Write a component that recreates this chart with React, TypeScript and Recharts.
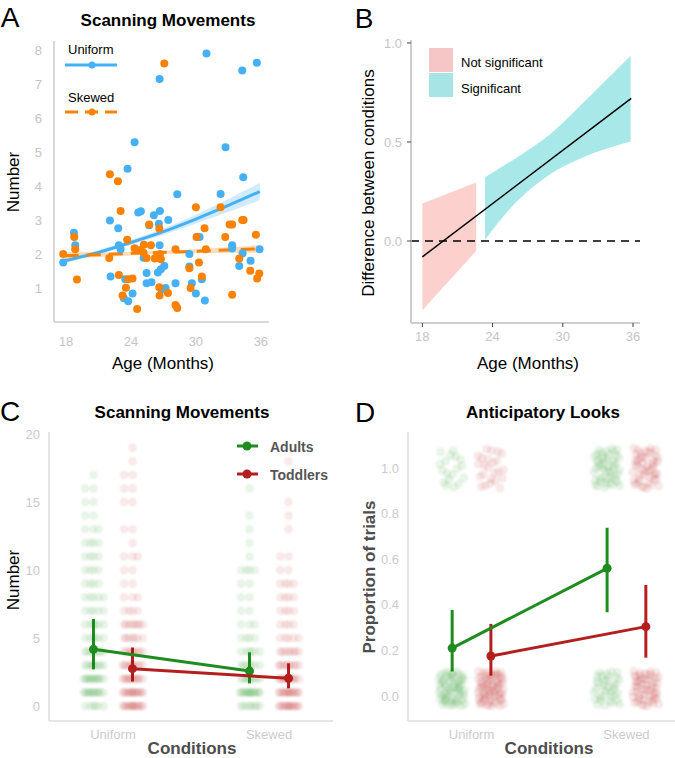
import React from "react";
import { Area, ComposedChart, ErrorBar, Line, ReferenceLine, Scatter, XAxis, YAxis } from "recharts";

const FONT = '"Liberation Sans", Arial, Helvetica, sans-serif';
const BLUE = "#45b0f5";
const ORANGE = "#fb8100";
const GREEN = "#1f8c1f";
const RED = "#b31f1f";
const PINK = "#fcd0cc";
const CYAN = "#a8e8e8";

// ---- Panel A: scanning movements by age ----
const uniformAge = [17.75, 18.74, 18.86, 22.06, 22.12, 22.83, 22.89, 23.05, 23.35, 23.75, 23.69, 23.48, 24.15, 24.34, 24.68, 24.92, 25.17, 25.45, 25.45, 25.9, 25.69, 26.12, 26.58, 26.68, 26.65, 26.65, 26.49, 26.77, 27.08, 26.83, 27.2, 27.45, 28.28, 28.12, 29.4, 29.4, 29.63, 30.34, 30.0, 30.55, 30.83, 30.98, 32.28, 32.74, 33.35, 33.35, 34.0, 34.31, 34.37, 34.28, 35.05, 35.63, 35.88];
const uniformNum = [1.75, 2.63, 2.26, 2.99, 1.34, 2.76, 2.26, 2.14, 0.7, 0.61, 4.51, 1.26, 0.84, 5.29, 3.22, 3.26, 1.89, 1.44, 1.14, 1.17, 2.85, 3.14, 2.89, 3.27, 2.26, 7.15, 1.46, 1.55, 1.65, 0.95, 1.0, 3.0, 3.76, 1.14, 2.0, 1.63, 1.14, 2.5, 0.84, 1.26, 0.63, 7.9, 3.77, 5.14, 2.26, 2.16, 1.65, 2.02, 4.26, 7.4, 1.8, 7.63, 2.14];
const skewedAge = [17.75, 18.77, 18.86, 19.02, 22.0, 22.06, 22.8, 23.05, 22.89, 23.23, 23.54, 23.66, 23.75, 24.15, 24.34, 24.58, 24.89, 25.2, 25.45, 25.85, 25.69, 26.2, 26.37, 26.68, 26.77, 26.62, 26.62, 26.65, 27.08, 27.42, 28.12, 28.12, 28.28, 29.4, 29.51, 30.0, 30.06, 30.28, 30.55, 30.8, 30.92, 32.28, 32.71, 33.11, 33.35, 33.35, 34.0, 34.28, 34.4, 35.02, 35.54, 35.66, 35.85, 25.17];
const skewedNum = [2.0, 2.5, 2.14, 1.25, 1.88, 4.35, 4.14, 3.27, 1.38, 0.78, 1.01, 2.42, 1.26, 1.28, 2.17, 0.38, 2.12, 2.27, 1.88, 2.26, 2.87, 1.87, 1.9, 2.0, 1.85, 2.75, 1.02, 0.78, 7.61, 0.85, 2.14, 0.5, 0.41, 1.58, 1.0, 3.38, 2.5, 1.75, 1.34, 2.76, 2.14, 3.38, 2.5, 2.87, 2.87, 0.8, 1.87, 3.0, 3.0, 1.51, 2.57, 1.28, 1.43, 2.04];

const fitAge = [17.9, 21, 24, 27, 30, 33, 35.9];
const uniformFit = [1.8, 2.05, 2.34, 2.66, 3.03, 3.43, 3.84];
const uniformFitLo = [1.74, 1.99, 2.27, 2.57, 2.9, 3.24, 3.58];
const uniformFitHi = [1.87, 2.11, 2.41, 2.75, 3.16, 3.62, 4.09];
const skewedFit = [1.95, 1.98, 2.02, 2.05, 2.08, 2.12, 2.15];
const skewedFitLo = [1.85, 1.91, 1.96, 2.0, 2.02, 2.04, 2.04];
const skewedFitHi = [2.06, 2.05, 2.07, 2.1, 2.14, 2.2, 2.26];

// ---- Panel B: difference between conditions ----
const nsAge = [18, 22.6];
const nsLo = [-0.35, -0.05];
const nsHi = [0.19, 0.295];
const sigAge = [23.36, 26.2, 29.05, 31.9, 35.8];
const sigLo = [0.007, 0.207, 0.342, 0.427, 0.503];
const sigHi = [0.322, 0.427, 0.546, 0.707, 0.936];
const diffAge = [18, 35.85];
const diffVal = [-0.08, 0.72];

// ---- Panels C & D: conditions ----
const conditions = ["Uniform", "Skewed"];
// counts of participants' scores at 0,1,2,...,19
const cAdultsUniform = [6, 12, 12, 9, 8, 6, 6, 5, 5, 4, 4, 4, 4, 3, 2, 2, 2, 1, 0, 0];
const cToddlersUniform = [14, 14, 12, 10, 9, 7, 8, 4, 3, 2, 2, 3, 1, 2, 0, 2, 2, 2, 1, 1];
const cAdultsSkewed = [8, 14, 9, 7, 6, 4, 3, 2, 2, 2, 4, 1, 1, 1, 1, 0, 1, 0, 0, 0];
const cToddlersSkewed = [14, 14, 12, 10, 8, 5, 4, 4, 4, 4, 2, 2, 0, 1, 1, 1, 0, 0, 1, 0];
const cAdultsMean = [4.17, 2.57];
const cAdultsLo = [2.7, 1.67];
const cAdultsHi = [6.4, 3.95];
const cToddlersMean = [2.75, 2.04];
const cToddlersLo = [1.8, 1.3];
const cToddlersHi = [4.3, 3.14];

// trials with (1) or without (0) an anticipatory look
const dAdultsOnes = [18, 48];
const dAdultsZeros = [60, 36];
const dToddlersOnes = [24, 50];
const dToddlersZeros = [70, 55];
const dAdultsMean = [0.21, 0.56];
const dAdultsLo = [0.107, 0.367];
const dAdultsHi = [0.377, 0.738];
const dToddlersMean = [0.175, 0.304];
const dToddlersLo = [0.089, 0.168];
const dToddlersHi = [0.316, 0.487];

const DODGE = 0.125;

const frac = (v: number) => v - Math.floor(v);

// low-discrepancy spread used as a fixed jitter (no randomness)
const halton = (i: number, b: number) => {
  let f = 1, r = 0, n = i;
  while (n > 0) { f /= b; r += f * (n % b); n = Math.floor(n / b); }
  return r;
};

const rowDots = (counts: number[], x0: number, half: number) =>
  counts.flatMap((n, value) =>
    Array.from({ length: n }, (_, i) => ({
      x: x0 + (n === 1 ? 0 : (frac(0.5 + i * 0.618034) * 2 - 1) * half),
      y: value,
    })));

const clusterDots = (n: number, x0: number, y0: number, half: number, lo: number, hi: number, seed: number) =>
  Array.from({ length: n }, (_, i) => ({
    x: x0 + (halton(i + seed, 2) * 2 - 1) * half,
    y: y0 + lo + halton(i + seed, 3) * (hi - lo),
  }));

const meanPoints = (mean: number[], lo: number[], hi: number[], offset: number) =>
  mean.map((m, i) => ({ x: i + 1 + offset, y: m, err: [m - lo[i], hi[i] - m] }));

const zip = (xs: number[], ys: number[]) => xs.map((x, i) => ({ x, y: ys[i] }));
const band = (xs: number[], lo: number[], hi: number[]) => xs.map((x, i) => ({ x, r: [lo[i], hi[i]] }));

const dot = (r: number, fill: string, opacity = 1, soft = false) => (p: any) =>
  <circle cx={p.cx} cy={p.cy} r={r} fill={fill} fillOpacity={opacity}
    stroke={soft ? fill : "none"} strokeOpacity={soft ? opacity * 1.3 : 0} strokeWidth={0.9}
    filter={soft ? "url(#soft)" : undefined} />;

const Txt = ({ x, y, children, size = 17, weight = 400, color = "#000", rotate = false, anchor = "center" }: any) => (
  <div style={{
    position: "absolute", left: x, top: y, fontFamily: FONT, fontSize: size, fontWeight: weight, color,
    whiteSpace: "nowrap", lineHeight: 1,
    transform: `translate(${anchor === "left" ? "0" : "-50%"}, -50%)${rotate ? " rotate(-90deg)" : ""}`,
  }}>{children}</div>
);

const tickA = { fill: "#c4c4c4", fontSize: 13, fontFamily: FONT };
const tickC = { fill: "#cbcbcb", fontSize: 13, fontFamily: FONT };

const PanelA = () => (
  <div style={{ position: "absolute", left: 0, top: 0 }}>
    <ComposedChart width={300} height={380} margin={{ top: 41, right: 31, bottom: 28, left: 14 }}>
      <XAxis type="number" dataKey="x" domain={[16.9, 36.75]} ticks={[18, 24, 30, 36]} allowDataOverflow
        height={30} tickLine={false} tickSize={0} tickMargin={15} tick={tickA} stroke="#cdcdcd" strokeWidth={1.5} />
      <YAxis type="number" dataKey="y" domain={[0, 8.27]} ticks={[1, 2, 3, 4, 5, 6, 7, 8]} allowDataOverflow
        width={40} tickLine={false} tickSize={0} tickMargin={12} tick={tickA} stroke="#cdcdcd" strokeWidth={1.5} />
      <Scatter data={zip(uniformAge, uniformNum)} shape={dot(4, BLUE)} isAnimationActive={false} />
      <Scatter data={zip(skewedAge, skewedNum)} shape={dot(4, ORANGE)} isAnimationActive={false} />
      <Area data={band(fitAge, uniformFitLo, uniformFitHi)} dataKey="r" type="monotone" fill={BLUE} fillOpacity={0.25}
        stroke="none" isAnimationActive={false} />
      <Area data={band(fitAge, skewedFitLo, skewedFitHi)} dataKey="r" type="monotone" fill={ORANGE} fillOpacity={0.28}
        stroke="none" isAnimationActive={false} />
      <Line data={zip(fitAge, uniformFit)} dataKey="y" type="monotone" stroke={BLUE} strokeWidth={3} dot={false}
        isAnimationActive={false} />
      <Line data={zip(fitAge, skewedFit)} dataKey="y" type="monotone" stroke={ORANGE} strokeWidth={3}
        strokeDasharray="14 8" dot={false} isAnimationActive={false} />
    </ComposedChart>
    <Txt x={68} y={49} size={13} anchor="left">Uniform</Txt>
    <Txt x={68} y={97} size={13} anchor="left">Skewed</Txt>
    <svg style={{ position: "absolute", left: 0, top: 0 }} width={130} height={130}>
      <line x1={65} x2={117} y1={65} y2={65} stroke={BLUE} strokeWidth={3} />
      <circle cx={92} cy={65} r={3.5} fill={BLUE} />
      <line x1={65} x2={117} y1={112} y2={112} stroke={ORANGE} strokeWidth={3} strokeDasharray="13 7" />
      <circle cx={92} cy={112} r={3.5} fill={ORANGE} />
    </svg>
  </div>
);

const PanelB = () => (
  <div style={{ position: "absolute", left: 335, top: 0 }}>
    <ComposedChart width={340} height={380} margin={{ top: 40, right: 35, bottom: 27, left: 36 }}>
      <XAxis type="number" dataKey="x" domain={[17.03, 36.6]} ticks={[18, 24, 30, 36]} allowDataOverflow
        height={30} tickSize={4} tickMargin={5} tick={tickA} stroke="#bdbdbd" strokeWidth={1.5}
        tickLine={{ stroke: "#444", strokeWidth: 1 }} />
      <YAxis type="number" dataKey="y" domain={[-0.414, 1.015]} ticks={[0, 0.5, 1]} allowDataOverflow
        tickFormatter={(v: number) => v.toFixed(1)}
        width={40} tickSize={4} tickMargin={5} tick={tickA} stroke="#bdbdbd" strokeWidth={1.5}
        tickLine={{ stroke: "#444", strokeWidth: 1 }} />
      <Area data={band(nsAge, nsLo, nsHi)} dataKey="r" type="linear" fill={PINK} fillOpacity={1} stroke="none"
        isAnimationActive={false} />
      <Area data={band(sigAge, sigLo, sigHi)} dataKey="r" type="monotone" fill={CYAN} fillOpacity={1} stroke="none"
        isAnimationActive={false} />
      <ReferenceLine y={0} stroke="#000" strokeWidth={1.5} strokeDasharray="8 6" />
      <Line data={zip(diffAge, diffVal)} dataKey="y" type="linear" stroke="#000" strokeWidth={1.5} dot={false}
        isAnimationActive={false} />
    </ComposedChart>
    <div style={{ position: "absolute", left: 94, top: 48, width: 24, height: 24, background: "#f5c6c5" }} />
    <div style={{ position: "absolute", left: 94, top: 73, width: 24, height: 24, background: "#a6e4e5" }} />
    <Txt x={126} y={62} size={13} anchor="left">Not significant</Txt>
    <Txt x={126} y={88} size={13} anchor="left">Significant</Txt>
  </div>
);

const CondAxes = ({ domainY, ticksY, fmt }: any) => [
  <XAxis key="x" type="number" dataKey="x" domain={[0.59, 2.41]} ticks={[1, 2]} allowDataOverflow
    tickFormatter={(v: number) => conditions[v - 1]}
    height={30} tickLine={false} tickSize={0} tickMargin={9} tick={tickC} stroke="#dedede" strokeWidth={1.5} />,
  <YAxis key="y" type="number" dataKey="y" domain={domainY} ticks={ticksY} allowDataOverflow tickFormatter={fmt}
    width={40} tickLine={false} tickSize={0} tickMargin={9} tick={tickC} stroke="#dedede" strokeWidth={1.5} />,
];

const MeanSeries = ({ data, color }: any) => (
  <Scatter data={data} shape={dot(4.5, color)} line={{ stroke: color, strokeWidth: 3 }} lineType="joint"
    isAnimationActive={false}>
    <ErrorBar dataKey="err" direction="y" width={0} stroke={color} strokeWidth={3} />
  </Scatter>
);

const PanelC = () => {
  const jit = [
    { d: cAdultsUniform, x: 1 - DODGE, c: GREEN }, { d: cToddlersUniform, x: 1 + DODGE, c: RED },
    { d: cAdultsSkewed, x: 2 - DODGE, c: GREEN }, { d: cToddlersSkewed, x: 2 + DODGE, c: RED },
  ];
  return (
    <div style={{ position: "absolute", left: 0, top: 380 }}>
      <ComposedChart width={340} height={378} margin={{ top: 52, right: 7, bottom: 7, left: 9 }}>
        {CondAxes({ domainY: [-1.1, 20.15], ticksY: [0, 5, 10, 15, 20] })}
        {jit.map((j, i) => (
          <Scatter key={i} data={rowDots(j.d, j.x, 0.07)} shape={dot(3.6, j.c, 0.08, true)} isAnimationActive={false} />
        ))}
        {MeanSeries({ data: meanPoints(cAdultsMean, cAdultsLo, cAdultsHi, -DODGE), color: GREEN })}
        {MeanSeries({ data: meanPoints(cToddlersMean, cToddlersLo, cToddlersHi, DODGE), color: RED })}
      </ComposedChart>
      <svg style={{ position: "absolute", left: 0, top: 0 }} width={340} height={120}>
        <line x1={237} x2={258} y1={66} y2={66} stroke={GREEN} strokeWidth={3} />
        <circle cx={247} cy={66} r={4.5} fill={GREEN} />
        <line x1={237} x2={258} y1={94} y2={94} stroke={RED} strokeWidth={3} />
        <circle cx={247} cy={94} r={4.5} fill={RED} />
      </svg>
      <Txt x={270} y={67} size={14} weight={700} color="#555" anchor="left">Adults</Txt>
      <Txt x={270} y={95} size={14} weight={700} color="#555" anchor="left">Toddlers</Txt>
    </div>
  );
};

const PanelD = () => {
  const clusters = [
    { n: dAdultsOnes[0], x: 1 - DODGE, y: 1, c: GREEN }, { n: dAdultsZeros[0], x: 1 - DODGE, y: 0, c: GREEN },
    { n: dToddlersOnes[0], x: 1 + DODGE, y: 1, c: RED }, { n: dToddlersZeros[0], x: 1 + DODGE, y: 0, c: RED },
    { n: dAdultsOnes[1], x: 2 - DODGE, y: 1, c: GREEN }, { n: dAdultsZeros[1], x: 2 - DODGE, y: 0, c: GREEN },
    { n: dToddlersOnes[1], x: 2 + DODGE, y: 1, c: RED }, { n: dToddlersZeros[1], x: 2 + DODGE, y: 0, c: RED },
  ];
  return (
    <div style={{ position: "absolute", left: 335, top: 380 }}>
      <ComposedChart width={355} height={378} margin={{ top: 52, right: 0, bottom: 7, left: 33 }}>
        {CondAxes({ domainY: [-0.11, 1.158], ticksY: [0, 0.2, 0.4, 0.6, 0.8, 1], fmt: (v: number) => v.toFixed(1) })}
        {clusters.map((k, i) => (
          <Scatter key={i}
            data={clusterDots(k.n, k.x, k.y, 0.085, k.y === 1 ? -0.09 : -0.045, k.y === 1 ? 0.09 : 0.11, 1 + i * 7)}
            shape={dot(3.8, k.c, 0.08, true)} isAnimationActive={false} />
        ))}
        {MeanSeries({ data: meanPoints(dAdultsMean, dAdultsLo, dAdultsHi, -DODGE), color: GREEN })}
        {MeanSeries({ data: meanPoints(dToddlersMean, dToddlersLo, dToddlersHi, DODGE), color: RED })}
      </ComposedChart>
    </div>
  );
};

export default function App() {
  return (
    <div style={{ position: "absolute", left: 0, top: 0, width: 675, height: 758, overflow: "hidden", background: "#fff" }}>
      <svg width={0} height={0} style={{ position: "absolute" }}>
        <defs>
          <filter id="soft" x="-100%" y="-100%" width="300%" height="300%">
            <feGaussianBlur stdDeviation={0.8} />
          </filter>
        </defs>
      </svg>
      <PanelA />
      <PanelB />
      <PanelC />
      <PanelD />
      <Txt x={10} y={18} size={28}>A</Txt>
      <Txt x={364} y={19} size={28}>B</Txt>
      <Txt x={10} y={412} size={28}>C</Txt>
      <Txt x={365} y={413} size={28}>D</Txt>
      <Txt x={168} y={20} weight={700}>Scanning Movements</Txt>
      <Txt x={182} y={412} weight={700}>Scanning Movements</Txt>
      <Txt x={543} y={412} weight={700}>Anticipatory Looks</Txt>
      <Txt x={163} y={363}>Age (Months)</Txt>
      <Txt x={528} y={363}>Age (Months)</Txt>
      <Txt x={13} y={182} rotate>Number</Txt>
      <Txt x={368} y={183} rotate>Difference between conditions</Txt>
      <Txt x={13} y={580} rotate>Number</Txt>
      <Txt x={369} y={577} rotate weight={700} color="#4d4d4d">Proportion of trials</Txt>
      <Txt x={192} y={748} weight={700} color="#4d4d4d">Conditions</Txt>
      <Txt x={549} y={748} weight={700} color="#4d4d4d">Conditions</Txt>
    </div>
  );
}
